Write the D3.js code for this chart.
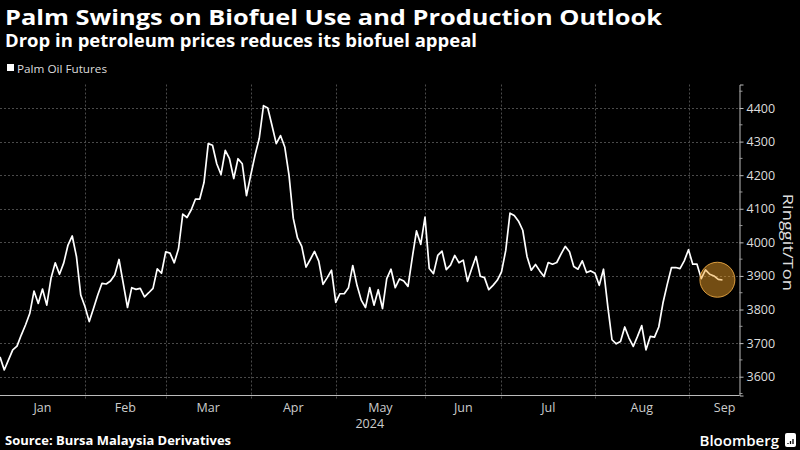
<!DOCTYPE html>
<html>
<head>
<meta charset="utf-8">
<script src="https://cdn.jsdelivr.net/npm/d3@7"></script>
<style>
  html, body { margin: 0; padding: 0; background: #000; }
  svg { display: block; }
  text { font-family: "Open Sans", "DejaVu Sans", sans-serif; }
</style>
</head>
<body>
<svg id="chart" width="800" height="450"></svg>
<script>
// ---- Data (one value per trading day) ----
const title = "Palm Swings on Biofuel Use and Production Outlook";
const subtitle = "Drop in petroleum prices reduces its biofuel appeal";
const seriesName = "Palm Oil Futures";
const axisTitle = "Ringgit/Ton";
const sourceText = "Source: Bursa Malaysia Derivatives";
const yearLabel = "2024";

const months = ["Jan", "Feb", "Mar", "Apr", "May", "Jun", "Jul", "Aug", "Sep"];
const janPrices = [3659, 3620, 3650, 3680, 3691, 3724, 3754, 3788, 3855, 3818, 3861, 3813, 3893, 3939, 3905, 3939, 3992, 4019, 3957, 3843];
const febPrices = [3808, 3764, 3803, 3843, 3878, 3876, 3885, 3903, 3949, 3878, 3806, 3865, 3860, 3863, 3838, 3850, 3863, 3921, 3908];
const marPrices = [3972, 3968, 3939, 3981, 4084, 4074, 4097, 4129, 4129, 4178, 4294, 4289, 4234, 4202, 4274, 4249, 4190, 4249, 4234, 4139];
const aprPrices = [4200, 4259, 4310, 4407, 4400, 4348, 4294, 4318, 4284, 4200, 4072, 4013, 3988, 3926, 3949, 3973, 3944, 3875, 3895, 3917];
const mayPrices = [3821, 3847, 3847, 3865, 3931, 3872, 3828, 3806, 3865, 3813, 3859, 3803, 3892, 3920, 3865, 3891, 3885, 3869, 3954, 4034, 3994];
const junPrices = [4075, 3922, 3907, 3961, 3974, 3919, 3932, 3961, 3939, 3947, 3884, 3922, 3958, 3899, 3895, 3859, 3872, 3887];
const julPrices = [3912, 3976, 4087, 4080, 4063, 4036, 3958, 3917, 3934, 3915, 3898, 3940, 3935, 3940, 3965, 3988, 3972, 3928, 3920, 3945, 3910, 3915];
const augPrices = [3908, 3872, 3920, 3810, 3710, 3698, 3705, 3748, 3715, 3690, 3720, 3752, 3680, 3720, 3718, 3748, 3820, 3875, 3925, 3925, 3922, 3945];
const sepPrices = [3978, 3935, 3935, 3892, 3918, 3905, 3900, 3890, 3888];
// expected trading days per month, used to centre the month labels
const monthTradingDays = [20, 19, 20, 20, 21, 18, 22, 22, 17];
const yTicks = [3600, 3700, 3800, 3900, 4000, 4100, 4200, 4300, 4400];
const yDomain = [3544, 4470];
const xDomainEnd = 174;
const highlightCount = 6; // last points inside the highlight circle

// ---- Build ----
const monthPrices = [janPrices, febPrices, marPrices, aprPrices, mayPrices, junPrices, julPrices, augPrices, sepPrices];
const prices = monthPrices.flat();
const monthStarts = [];
{ let s = 0; monthPrices.forEach(a => { monthStarts.push(s); s += a.length; }); }

const svg = d3.select("#chart");
const W = 800, H = 450;
const plot = { left: 0, right: 739.5, top: 84.5, bottom: 395.5 };

svg.append("rect").attr("width", W).attr("height", H).attr("fill", "#000");

const x = d3.scaleLinear().domain([0, xDomainEnd]).range([plot.left, plot.right]);
const y = d3.scaleLinear().domain(yDomain).range([plot.bottom, plot.top]);

// Titles
function fitText(sel, width) {
  sel.attr("textLength", width).attr("lengthAdjust", "spacingAndGlyphs");
}
svg.append("text").attr("x", 5).attr("y", 24.5).attr("fill", "#fff")
  .attr("font-size", 22).attr("font-weight", 700).text(title).call(fitText, 657);
svg.append("text").attr("x", 5).attr("y", 46.5).attr("fill", "#fff")
  .attr("font-size", 17).attr("font-weight", 700).text(subtitle).call(fitText, 472);

// Legend
svg.append("rect").attr("x", 7).attr("y", 64).attr("width", 7).attr("height", 7).attr("fill", "#fff");
svg.append("text").attr("x", 17).attr("y", 72.5).attr("fill", "#ddd")
  .attr("font-size", 11.5).text(seriesName).call(fitText, 90);

// Horizontal gridlines
svg.append("g").selectAll("line").data(yTicks).join("line")
  .attr("x1", plot.left).attr("x2", plot.right)
  .attr("y1", d => Math.round(y(d)) + 0.5).attr("y2", d => Math.round(y(d)) + 0.5)
  .attr("stroke", "#4a4a4a").attr("stroke-width", 1).attr("stroke-dasharray", "2,2");

// Vertical gridlines at month starts
const boundaries = monthStarts.slice(1);
svg.append("g").selectAll("line").data(boundaries).join("line")
  .attr("x1", d => Math.round(x(d)) + 0.5).attr("x2", d => Math.round(x(d)) + 0.5)
  .attr("y1", plot.top).attr("y2", plot.bottom + 4)
  .attr("stroke", "#4a4a4a").attr("stroke-width", 1).attr("stroke-dasharray", "2,2");

// Bottom axis line
svg.append("line").attr("x1", plot.left).attr("x2", plot.right)
  .attr("y1", plot.bottom).attr("y2", plot.bottom)
  .attr("stroke", "#bbb").attr("stroke-width", 1);

// Month labels
svg.append("g").selectAll("text").data(months).join("text")
  .attr("x", (d, i) => x(monthStarts[i] + monthTradingDays[i] / 2))
  .attr("y", 412).attr("text-anchor", "middle").attr("fill", "#ccc")
  .attr("font-size", 12.5).text(d => d);
svg.append("text").attr("x", (plot.left + plot.right) / 2).attr("y", 428)
  .attr("text-anchor", "middle").attr("fill", "#ccc").attr("font-size", 12.5).text(yearLabel);

// Right axis
const yAxis = d3.axisRight(y).tickValues(yTicks).tickSize(4).tickPadding(3).tickFormat(d3.format("d"));
const ax = svg.append("g").attr("transform", `translate(${plot.right},0)`).call(yAxis);
ax.select(".domain").attr("stroke", "#bbb");
ax.selectAll(".tick line").attr("stroke", "#bbb");
ax.selectAll(".tick text").attr("fill", "#ddd").attr("font-size", 12.5)
  .attr("font-family", "\"Open Sans\", \"DejaVu Sans\", sans-serif");
const minor = d3.range(3550, 4500, 100);
svg.append("g").selectAll("line").data(minor).join("line")
  .attr("x1", plot.right).attr("x2", plot.right + 3)
  .attr("y1", d => y(d)).attr("y2", d => y(d)).attr("stroke", "#999");

svg.append("text")
  .attr("transform", `translate(782.5, ${y(4000)}) rotate(90)`)
  .attr("text-anchor", "middle").attr("fill", "#ddd").attr("font-size", 14.5)
  .text(axisTitle).call(fitText, 97);

// Price line
const line = d3.line().x((d, i) => x(i)).y(d => y(d)).curve(d3.curveLinear);
svg.append("path").datum(prices).attr("d", line)
  .attr("fill", "none").attr("stroke", "#fff").attr("stroke-width", 1.7)
  .attr("stroke-linejoin", "round");

// Highlight circle on recent points
const n = prices.length;
const recent = prices.slice(n - highlightCount);
const cx = x(n - 1 - 1.2);
const cy = y(d3.mean([recent[recent.length - 1], d3.min(recent), recent[recent.length - 2]]));
svg.append("circle").attr("cx", cx).attr("cy", cy).attr("r", 17.5)
  .attr("fill", "rgba(240,160,40,0.48)").attr("stroke", "rgba(245,175,70,0.85)").attr("stroke-width", 1);

// Footer
svg.append("text").attr("x", 5).attr("y", 445).attr("fill", "#fff")
  .attr("font-size", 12.5).attr("font-weight", 700).text(sourceText).call(fitText, 226);
svg.append("text").attr("x", 779).attr("y", 446).attr("text-anchor", "end").attr("fill", "#fff")
  .attr("font-size", 15).attr("font-weight", 600).text("Bloomberg");
const logo = svg.append("g").attr("transform", "translate(785,433)");
logo.append("rect").attr("width", 11).attr("height", 14).attr("rx", 2).attr("fill", "#fff");
logo.selectAll("line").data([3, 5.5, 8]).join("line")
  .attr("x1", d => d).attr("x2", d => d).attr("y1", (d, i) => 10 - i * 2).attr("y2", 11)
  .attr("stroke", "#000").attr("stroke-width", 1.3);
</script>
</body>
</html>
